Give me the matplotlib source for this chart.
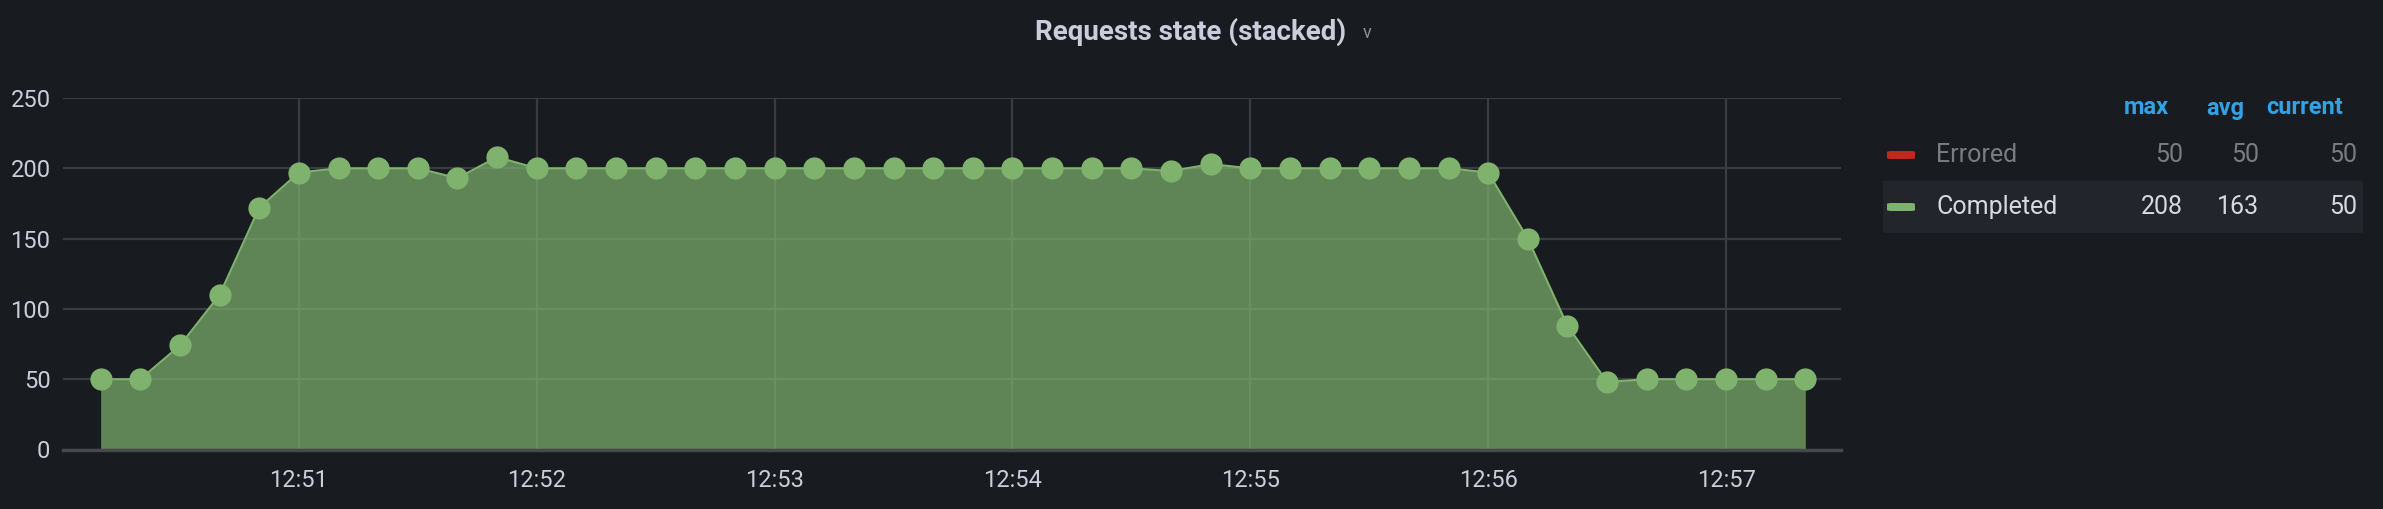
import pandas as pd
import matplotlib
matplotlib.use("Agg")
import matplotlib.pyplot as plt
import matplotlib.dates as mdates
from matplotlib.patches import FancyBboxPatch, Rectangle

# values, one sample every 10 s from 12:50:10
completed = [50, 50, 74, 110, 172, 197, 200, 200, 200, 193, 208, 200,
             200, 200, 200, 200, 200, 200, 200, 200, 200, 200, 200, 200,
             200, 200, 200, 198, 203, 200, 200, 200, 200, 200, 200, 197,
             150, 88, 48, 50, 50, 50, 50, 50]
times = pd.date_range("2024-01-01 12:50:10", periods=len(completed), freq="10s")
x_range = pd.to_datetime(["2024-01-01 12:50:00.500", "2024-01-01 12:57:29.000"])
y_ticks = [0, 50, 100, 150, 200, 250]

legend_names = ["Errored", "Completed"]
legend_colors = ["#c4271b", "#7eb26d"]
legend_cols = ["max", "avg", "current"]
legend_vals = [["50", "50", "50"], ["208", "163", "50"]]

BG = "#181b1f"
GREEN = "#7eb26d"
TXT = "#ccccdc"

plt.rcParams["font.family"] = ["Roboto", "DejaVu Sans"]

W, H = 2383, 509
fig = plt.figure(figsize=(W / 100, H / 100), dpi=100, facecolor=BG)
ax = fig.add_axes([63 / W, 1 - 449.5 / H, (1841 - 63) / W, (449.5 - 98) / H])
ax.set_facecolor(BG)

# area + points
ax.fill_between(times, completed, color=GREEN, alpha=0.7, linewidth=0, zorder=2)
ax.plot(times, completed, color=GREEN, lw=1.5, marker="o", ms=16,
        markeredgewidth=0, zorder=3)

ax.set_xlim(x_range[0], x_range[1])
ax.set_ylim(0, 250)
ax.set_yticks(y_ticks)
ax.xaxis.set_major_locator(mdates.MinuteLocator())
ax.xaxis.set_major_formatter(mdates.DateFormatter("%H:%M"))

ax.set_axisbelow(True)
ax.grid(True, color="#3a3c42", linewidth=1.6)
for s in ["top", "right", "left"]:
    ax.spines[s].set_visible(False)
ax.spines["bottom"].set_color("#46484e")
ax.spines["bottom"].set_linewidth(2.5)
ax.spines["bottom"].set_zorder(4)
ax.tick_params(length=0, labelcolor=TXT, labelsize=17)
ax.tick_params(axis="y", pad=9)
ax.tick_params(axis="x", pad=14)

# title
fig.text(1191 / W, 1 - 32 / H, "Requests state (stacked)", color=TXT,
         fontsize=20, fontweight="bold", ha="center", va="center")
fig.text(1367 / W, 1 - 33 / H, "v", color="#8e8e95", fontsize=13,
         ha="center", va="center")

# legend table
head_x = [2169, 2244, 2343]
val_x = [2183, 2259, 2357]
for name, hx in zip(legend_cols, head_x):
    fig.text(hx / W, 1 - 108 / H, name, color="#33a2e5", fontsize=17,
             fontweight="bold", ha="right", va="center")

fig.patches.append(Rectangle((1883 / W, 1 - 233 / H), (2363 - 1883) / W, 52 / H,
                             transform=fig.transFigure, facecolor="#22252b",
                             edgecolor="none", zorder=0))
row_y = [155, 207]
row_col = ["#7b7c82", "#d8d9e0"]
for name, col, vals, ry, tc in zip(legend_names, legend_colors, legend_vals, row_y, row_col):
    fig.patches.append(FancyBboxPatch((1887 / W, 1 - (ry + 4) / H), 28 / W, 8 / H,
                                      boxstyle="round,pad=0,rounding_size=0.002",
                                      transform=fig.transFigure, facecolor=col,
                                      edgecolor="none", zorder=1))
    fig.text(1936 / W, 1 - ry / H, name, color=tc, fontsize=18, ha="left", va="center")
    for v, vx in zip(vals, val_x):
        fig.text(vx / W, 1 - ry / H, v, color=tc, fontsize=18, ha="right", va="center")

fig.savefig("out.png", dpi=100, facecolor=BG)
